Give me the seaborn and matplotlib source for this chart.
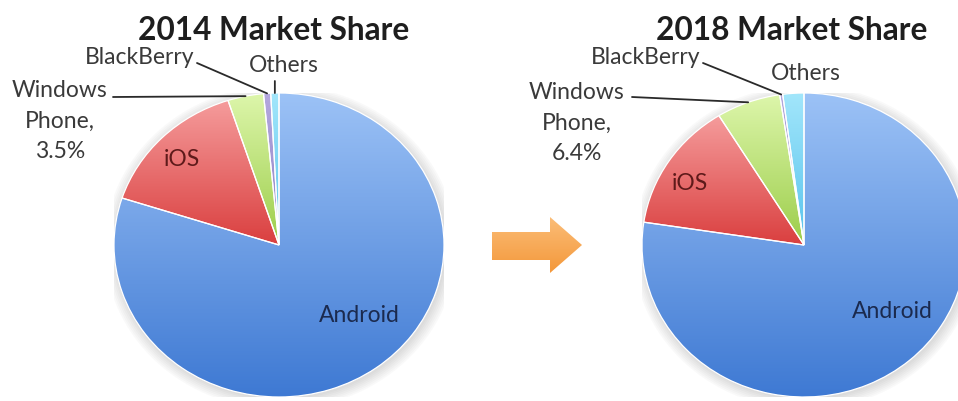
import numpy as np
import matplotlib.pyplot as plt
import seaborn as sns
from matplotlib.patches import Polygon

# data (percent of smartphone shipments)
platforms = ['Android', 'iOS', 'Windows Phone', 'BlackBerry', 'Others']
share_2014 = [80.0, 15.0, 3.5, 0.7, 0.8]
share_2018 = [77.4, 13.8, 6.4, 0.3, 2.1]
titles = ['2014 Market Share', '2018 Market Share']

# (top colour, bottom colour) for the slice gradients
grad_colors = {
    'Android': ('#9cc2f6', '#3e79d3'),
    'iOS': ('#f59c9c', '#da3f3f'),
    'Windows Phone': ('#ddf6ab', '#9ccd4a'),
    'BlackBerry': ('#b4a8de', '#8f82c6'),
    'Others': ('#a2e6fb', '#58c3ec'),
}

W, H = 958, 401
FONT = ['Lato', 'DejaVu Sans']


def fx(x):
    return x / W


def fy(y):
    return 1 - y / H


def fill_gradient(ax, patch, top, bottom):
    """Fill a patch with a vertical gradient (clipped image)."""
    verts = patch.get_patch_transform().transform(patch.get_path().vertices)
    x0, x1 = verts[:, 0].min(), verts[:, 0].max()
    y0, y1 = verts[:, 1].min(), verts[:, 1].max()
    cmap = sns.blend_palette([bottom, top], as_cmap=True)
    grad = np.linspace(0, 1, 256).reshape(-1, 1)
    im = ax.imshow(grad, extent=(x0, x1, y0, y1), origin='lower', cmap=cmap,
                   aspect='auto', zorder=1, interpolation='bilinear')
    im.set_clip_path(patch)


def draw_pie(rect, values):
    ax = fig.add_axes(rect)
    # soft shadow
    for k in range(7):
        ax.add_patch(plt.Circle((0.01, -0.015), 1.0 + 0.011 * k,
                                color='#7a7a7a', alpha=0.04, lw=0, zorder=0))
    wedges, _ = ax.pie(values, startangle=90, counterclock=False,
                       wedgeprops=dict(edgecolor='white', linewidth=0.9))
    for w, name in zip(wedges, platforms):
        w.set_facecolor('none')
        w.set_zorder(2)
        fill_gradient(ax, w, *grad_colors[name])
    ax.set_aspect('auto')
    ax.set_xlim(-1, 1)
    ax.set_ylim(-1, 1)
    ax.axis('off')
    return ax, wedges


def edge_point(w, r=1.0):
    a = np.deg2rad((w.theta1 + w.theta2) / 2)
    return r * np.cos(a), r * np.sin(a)


sns.set_theme(style='white')
plt.rcParams['font.family'] = FONT

fig = plt.figure(figsize=(W / 100, H / 100), dpi=100)
fig.patch.set_facecolor('white')

# overlay in pixel coordinates for arrow and leader lines
over = fig.add_axes([0, 0, 1, 1], zorder=5)
over.set_xlim(0, W)
over.set_ylim(H, 0)
over.axis('off')

ax1, w1 = draw_pie([fx(114), fy(397), 330 / W, 304 / H], share_2014)
ax2, w2 = draw_pie([fx(642), fy(397), 324 / W, 304 / H], share_2018)

title_kw = dict(fontsize=22.8, fontweight='bold', color='#1e1e1e', ha='center', va='center')
fig.text(fx(274), fy(31), titles[0], **title_kw)
fig.text(fx(792), fy(31), titles[1], **title_kw)

LS = 16.5
lab_kw = dict(fontsize=LS, color='#3a3a3a', va='center')
line_kw = dict(arrowstyle='-', color='#2a2a2a', lw=1.3, shrinkA=0, shrinkB=0)

# 2014 labels
fig.text(fx(194), fy(57), 'BlackBerry', ha='right', **lab_kw)
ax1.annotate('', xy=edge_point(w1[3]), xytext=(197, 63), textcoords=over.transData,
             arrowprops=line_kw)
fig.text(fx(284), fy(66), 'Others', ha='center', **lab_kw)
ox = 114 + 330 * (edge_point(w1[4])[0] + 1) / 2
ax1.annotate('', xy=edge_point(w1[4]), xytext=(ox, 81), textcoords=over.transData,
             arrowprops=line_kw)
fig.text(fx(60), fy(121), 'Windows\nPhone,\n3.5%', ha='center', multialignment='center',
         linespacing=1.55, **lab_kw)
ax1.annotate('', xy=edge_point(w1[2]), xytext=(113, 97), textcoords=over.transData,
             arrowprops=line_kw)
fig.text(fx(182), fy(160), 'iOS', ha='center', fontsize=LS, color='#5e1a1a', va='center')
fig.text(fx(359), fy(316), 'Android', ha='center', fontsize=LS, color='#1b2a4e', va='center')

# 2018 labels
fig.text(fx(700), fy(57), 'BlackBerry', ha='right', **lab_kw)
ax2.annotate('', xy=edge_point(w2[3]), xytext=(703, 63), textcoords=over.transData,
             arrowprops=line_kw)
fig.text(fx(806), fy(74), 'Others', ha='center', **lab_kw)
fig.text(fx(577), fy(123), 'Windows\nPhone,\n6.4%', ha='center', multialignment='center',
         linespacing=1.55, **lab_kw)
ax2.annotate('', xy=edge_point(w2[2]), xytext=(632, 97), textcoords=over.transData,
             arrowprops=line_kw)
fig.text(fx(690), fy(183), 'iOS', ha='center', fontsize=LS, color='#5e1a1a', va='center')
fig.text(fx(892), fy(312), 'Android', ha='center', fontsize=LS, color='#1b2a4e', va='center')

# orange arrow between the pies
arrow_pts = [(492, 232), (550, 232), (550, 217), (582, 245), (550, 273),
             (550, 260), (492, 260)]
arrow = Polygon(arrow_pts, closed=True, facecolor='none', edgecolor='none')
over.add_patch(arrow)
acmap = sns.blend_palette(['#fbbd78', '#f4983a'], as_cmap=True)
im = over.imshow(np.linspace(0, 1, 256).reshape(-1, 1), extent=(492, 582, 273, 217),
                 cmap=acmap, aspect='auto', origin='upper')
im.set_clip_path(arrow)
over.set_xlim(0, W)
over.set_ylim(H, 0)

fig.savefig('out.png', dpi=100, facecolor='white')
